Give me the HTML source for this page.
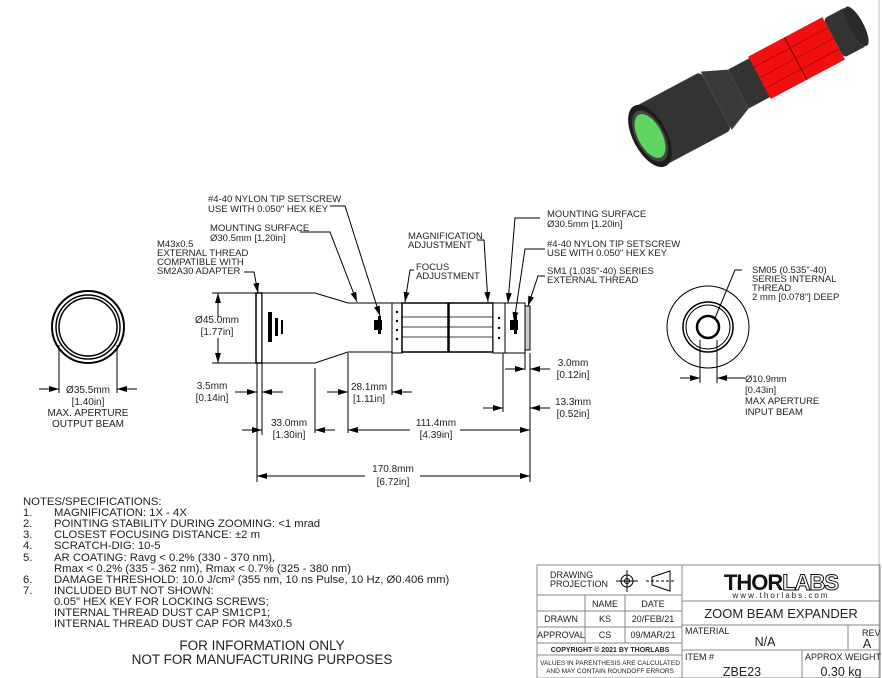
<!DOCTYPE html>
<html><head><meta charset="utf-8"><style>
html,body{margin:0;padding:0;background:#fff;}
svg{display:block;font-family:"Liberation Sans",sans-serif;}
text{fill:#222;}
</style></head><body>
<svg width="882" height="678" viewBox="0 0 882 678" xmlns="http://www.w3.org/2000/svg">
<defs>
<marker id="ar" viewBox="0 0 10 6" refX="10" refY="3" markerWidth="10" markerHeight="6" orient="auto-start-reverse" markerUnits="userSpaceOnUse"><path d="M0,0 L10,3 L0,6z" fill="#000"/></marker>
</defs>
<rect x="0" y="0" width="882" height="678" fill="#fff"/>
<line x1="879" y1="0" x2="879" y2="678" stroke="#bbb"/>

<!-- product image -->
<g transform="translate(650,136) rotate(-28)">
 <rect x="0" y="-33" width="75" height="66" rx="5" fill="#333"/>
 <path d="M75,-33 L100,-22 L100,22 L75,33z" fill="#3a3a3a"/>
 <rect x="100" y="-22" width="26" height="44" fill="#333"/>
 <rect x="124" y="-24" width="84" height="48" fill="#f01010"/>
 <line x1="165" y1="-24" x2="165" y2="24" stroke="#700" stroke-width="1"/>
 <line x1="124" y1="-12" x2="208" y2="-12" stroke="#900" stroke-width=".6"/>
 <line x1="124" y1="0" x2="208" y2="0" stroke="#900" stroke-width=".6"/>
 <line x1="124" y1="12" x2="208" y2="12" stroke="#900" stroke-width=".6"/>
 <rect x="208" y="-22" width="26" height="44" rx="4" fill="#333"/>
 <ellipse cx="234" cy="0" rx="7" ry="22" fill="#2a2a2a"/>
 <ellipse cx="0" cy="0" rx="17" ry="34" fill="#1c1c1c"/>
 <ellipse cx="0" cy="0" rx="14" ry="28" fill="#444"/>
 <ellipse cx="0" cy="0" rx="12" ry="24" fill="#5fd65f"/>
</g>

<!-- left end view -->
<g fill="none" stroke="#000">
 <circle cx="88" cy="327" r="36" stroke-width="2"/>
 <circle cx="88" cy="327" r="32" stroke-width="1.5"/>
 <circle cx="88" cy="327" r="29" stroke-width="1.5"/>
 <line x1="59" y1="345" x2="59" y2="393"/>
 <line x1="117" y1="345" x2="117" y2="393"/>
 <line x1="39" y1="389" x2="59" y2="389" marker-end="url(#ar)"/>
 <line x1="137" y1="389" x2="117" y2="389" marker-end="url(#ar)"/>
</g>
<g font-size="10" text-anchor="middle">
 <text x="88" y="393">Ø35.5mm</text>
 <text x="88" y="405">[1.40in]</text>
 <text x="88" y="416">MAX. APERTURE</text>
 <text x="88" y="427">OUTPUT BEAM</text>
</g>

<!-- right end view -->
<g fill="none" stroke="#000">
 <circle cx="708" cy="327" r="41"/>
 <circle cx="708" cy="327" r="25" stroke-width="1.5"/>
 <circle cx="708" cy="327" r="22"/>
 <circle cx="708" cy="327" r="11" stroke-width="2.5"/>
 <line x1="700" y1="340" x2="700" y2="383"/>
 <line x1="717" y1="340" x2="717" y2="383"/>
 <line x1="680" y1="378" x2="700" y2="378" marker-end="url(#ar)"/>
 <line x1="745" y1="378" x2="717" y2="378" marker-end="url(#ar)"/>
 <polyline points="742,270 735,270 715,318"/>
</g>
<g font-size="9.5">
 <text x="745" y="382">Ø10.9mm</text>
 <text x="745" y="393">[0.43in]</text>
 <text x="745" y="404">MAX APERTURE</text>
 <text x="745" y="415">INPUT BEAM</text>
 <text x="752" y="273">SM05 (0.535"-40)</text>
 <text x="752" y="282">SERIES INTERNAL</text>
 <text x="752" y="291">THREAD</text>
 <text x="752" y="300">2 mm [0.078"] DEEP</text>
</g>

<!-- side view body -->
<g stroke="#000" fill="#fff">
 <rect x="256" y="293" width="6" height="70" stroke-width="1.5"/>
 <path d="M262,293 L315,293 L348,303 L392,303 L392,352 L348,352 L315,363 L262,363z"/>
 <rect x="392" y="303" width="10" height="50"/>
 <rect x="402" y="303" width="46" height="49" stroke-width="1.5"/>
 <rect x="449" y="303" width="44" height="49" stroke-width="1.5"/>
 <rect x="493" y="303" width="12" height="50"/>
 <rect x="505" y="303" width="20" height="50"/>
 <rect x="525" y="306" width="5" height="44" fill="#ccc"/>
</g>
<g stroke="#000" stroke-width=".7">
 <line x1="402" y1="317" x2="448" y2="317"/><line x1="402" y1="327" x2="448" y2="327"/><line x1="402" y1="337" x2="448" y2="337"/>
 <line x1="449" y1="317" x2="493" y2="317"/><line x1="449" y1="327" x2="493" y2="327"/><line x1="449" y1="337" x2="493" y2="337"/>
</g>
<g fill="#000">
 <rect x="268" y="312" width="4" height="30"/><rect x="275" y="318" width="3" height="18"/><rect x="281" y="320" width="2" height="14"/>
 <rect x="374" y="320" width="8" height="10"/><rect x="378" y="316" width="3" height="18"/>
 <rect x="510" y="320" width="8" height="10"/><rect x="514" y="316" width="3" height="18"/>
 <circle cx="397" cy="312" r="1.2"/><circle cx="397" cy="321" r="1.2"/><circle cx="397" cy="330" r="1.2"/><circle cx="397" cy="339" r="1.2"/>
 <circle cx="499" cy="318" r="1.2"/><circle cx="499" cy="328" r="1.2"/><circle cx="499" cy="338" r="1.2"/>
</g>

<!-- leaders -->
<g fill="none" stroke="#000">
 <polyline points="244,272 254,272 258,293" marker-end="url(#ar)"/>
 <polyline points="300,232 330,232 357,302" marker-end="url(#ar)"/>
 <polyline points="330,206 345,206 380,316" marker-end="url(#ar)"/>
 <polyline points="414,270 410,270 405,302" marker-end="url(#ar)"/>
 <polyline points="477,240 484,240 488,302" marker-end="url(#ar)"/>
 <polyline points="540,218 515,218 508,303" marker-end="url(#ar)"/>
 <polyline points="545,249 525,249 514,322" marker-end="url(#ar)"/>
 <polyline points="545,276 538,276 528,306" marker-end="url(#ar)"/>
</g>
<g font-size="9.5">
 <text x="208" y="202">#4-40 NYLON TIP SETSCREW</text>
 <text x="208" y="212">USE WITH 0.050" HEX KEY</text>
 <text x="210" y="231">MOUNTING SURFACE</text>
 <text x="210" y="241">Ø30.5mm [1.20in]</text>
 <text x="157" y="247">M43x0.5</text>
 <text x="157" y="256">EXTERNAL THREAD</text>
 <text x="157" y="265">COMPATIBLE WITH</text>
 <text x="157" y="274">SM2A30 ADAPTER</text>
 <text x="408" y="239">MAGNIFICATION</text>
 <text x="408" y="248">ADJUSTMENT</text>
 <text x="416" y="270">FOCUS</text>
 <text x="416" y="279">ADJUSTMENT</text>
 <text x="547" y="217">MOUNTING SURFACE</text>
 <text x="547" y="227">Ø30.5mm [1.20in]</text>
 <text x="547" y="247">#4-40 NYLON TIP SETSCREW</text>
 <text x="547" y="256">USE WITH 0.050" HEX KEY</text>
 <text x="547" y="274">SM1 (1.035"-40) SERIES</text>
 <text x="547" y="283">EXTERNAL THREAD</text>
</g>

<!-- dimensions -->
<g fill="none" stroke="#000">
 <line x1="212" y1="293" x2="256" y2="293"/>
 <line x1="212" y1="363" x2="256" y2="363"/>
 <line x1="218" y1="318" x2="218" y2="293" marker-end="url(#ar)"/>
 <line x1="218" y1="338" x2="218" y2="363" marker-end="url(#ar)"/>
 <line x1="257" y1="363" x2="257" y2="482"/>
 <line x1="262" y1="363" x2="262" y2="435"/>
 <line x1="315" y1="368" x2="315" y2="433"/>
 <line x1="348" y1="353" x2="348" y2="433"/>
 <line x1="392" y1="353" x2="392" y2="395"/>
 <line x1="503" y1="353" x2="503" y2="412"/>
 <line x1="525" y1="353" x2="525" y2="370"/>
 <line x1="530" y1="353" x2="530" y2="482"/>
 <line x1="235" y1="392" x2="257" y2="392" marker-end="url(#ar)"/>
 <line x1="283" y1="392" x2="262" y2="392" marker-end="url(#ar)"/>
 <line x1="242" y1="430" x2="262" y2="430" marker-end="url(#ar)"/>
 <line x1="335" y1="430" x2="315" y2="430" marker-end="url(#ar)"/>
 <line x1="327" y1="392" x2="348" y2="392" marker-end="url(#ar)"/>
 <line x1="412" y1="392" x2="392" y2="392" marker-end="url(#ar)"/>
 <line x1="410" y1="430" x2="348" y2="430" marker-end="url(#ar)"/>
 <line x1="460" y1="430" x2="530" y2="430" marker-end="url(#ar)"/>
 <line x1="365" y1="476" x2="257" y2="476" marker-end="url(#ar)"/>
 <line x1="420" y1="476" x2="530" y2="476" marker-end="url(#ar)"/>
 <line x1="505" y1="369" x2="525" y2="369" marker-end="url(#ar)"/>
 <line x1="550" y1="369" x2="530" y2="369" marker-end="url(#ar)"/>
 <line x1="483" y1="408" x2="503" y2="408" marker-end="url(#ar)"/>
 <line x1="550" y1="408" x2="530" y2="408" marker-end="url(#ar)"/>
</g>
<g font-size="10" text-anchor="middle">
 <text x="217" y="323">Ø45.0mm</text><text x="217" y="335">[1.77in]</text>
 <text x="212" y="389">3.5mm</text><text x="212" y="401">[0.14in]</text>
 <text x="289" y="426">33.0mm</text><text x="289" y="438">[1.30in]</text>
 <text x="369" y="390">28.1mm</text><text x="369" y="402">[1.11in]</text>
 <text x="436" y="426">111.4mm</text><text x="436" y="438">[4.39in]</text>
 <text x="393" y="472">170.8mm</text><text x="393" y="485">[6.72in]</text>
 <text x="573" y="366">3.0mm</text><text x="573" y="378">[0.12in]</text>
 <text x="573" y="405">13.3mm</text><text x="573" y="417">[0.52in]</text>
</g>

<!-- notes -->
<g font-size="11.3">
 <text x="23" y="505">NOTES/SPECIFICATIONS:</text>
 <text x="23" y="516">1.</text><text x="54" y="516">MAGNIFICATION: 1X - 4X</text>
 <text x="23" y="527">2.</text><text x="54" y="527">POINTING STABILITY DURING ZOOMING: &lt;1 mrad</text>
 <text x="23" y="538">3.</text><text x="54" y="538">CLOSEST FOCUSING DISTANCE: ±2 m</text>
 <text x="23" y="549">4.</text><text x="54" y="549">SCRATCH-DIG: 10-5</text>
 <text x="23" y="561">5.</text><text x="54" y="561">AR COATING: Ravg &lt; 0.2% (330 - 370 nm),</text>
 <text x="54" y="572">Rmax &lt; 0.2% (335 - 362 nm), Rmax &lt; 0.7% (325 - 380 nm)</text>
 <text x="23" y="583">6.</text><text x="54" y="583">DAMAGE THRESHOLD: 10.0 J/cm² (355 nm, 10 ns Pulse, 10 Hz, Ø0.406 mm)</text>
 <text x="23" y="594">7.</text><text x="54" y="594">INCLUDED BUT NOT SHOWN:</text>
 <text x="54" y="605">0.05" HEX KEY FOR LOCKING SCREWS;</text>
 <text x="54" y="616">INTERNAL THREAD DUST CAP SM1CP1;</text>
 <text x="54" y="627">INTERNAL THREAD DUST CAP FOR M43x0.5</text>
</g>
<g font-size="13.5" text-anchor="middle">
 <text x="262" y="650">FOR INFORMATION ONLY</text>
 <text x="262" y="664">NOT FOR MANUFACTURING PURPOSES</text>
</g>

<!-- title block -->
<g fill="none" stroke="#888">
 <rect x="537" y="565" width="343" height="113"/>
 <line x1="682" y1="565" x2="682" y2="678"/>
 <line x1="537" y1="595" x2="682" y2="595"/>
 <line x1="537" y1="611" x2="682" y2="611"/>
 <line x1="537" y1="627" x2="682" y2="627"/>
 <line x1="537" y1="643" x2="682" y2="643"/>
 <line x1="537" y1="655" x2="682" y2="655"/>
 <line x1="585" y1="595" x2="585" y2="643"/>
 <line x1="625" y1="595" x2="625" y2="643"/>
 <line x1="682" y1="601" x2="880" y2="601"/>
 <line x1="682" y1="625" x2="880" y2="625"/>
 <line x1="682" y1="650" x2="880" y2="650"/>
 <line x1="848" y1="625" x2="848" y2="650"/>
 <line x1="802" y1="650" x2="802" y2="678"/>
</g>
<g fill="none" stroke="#000">
 <circle cx="627" cy="581" r="6"/><circle cx="627" cy="581" r="2.5"/>
 <line x1="616" y1="581" x2="638" y2="581"/><line x1="627" y1="570" x2="627" y2="592"/>
 <path d="M652,577 L670,571 L670,591 L652,585z"/>
 <line x1="646" y1="581" x2="676" y2="581" stroke-dasharray="3,2"/>
</g>
<g font-size="9">
 <text x="550" y="578">DRAWING</text><text x="550" y="587">PROJECTION</text>
 <text x="605" y="607" text-anchor="middle">NAME</text>
 <text x="653" y="607" text-anchor="middle">DATE</text>
 <text x="561" y="622" text-anchor="middle">DRAWN</text>
 <text x="605" y="622" text-anchor="middle">KS</text>
 <text x="653" y="622" text-anchor="middle">20/FEB/21</text>
 <text x="561" y="638" text-anchor="middle">APPROVAL</text>
 <text x="605" y="638" text-anchor="middle">CS</text>
 <text x="653" y="638" text-anchor="middle">09/MAR/21</text>
 <text x="610" y="652" text-anchor="middle" font-size="7" font-weight="bold">COPYRIGHT © 2021 BY THORLABS</text>
 <text x="610" y="665" text-anchor="middle" font-size="6.5">VALUES IN PARENTHESIS ARE CALCULATED</text>
 <text x="610" y="673" text-anchor="middle" font-size="6.5">AND MAY CONTAIN ROUNDOFF ERRORS</text>
 <text x="685" y="634" font-size="9">MATERIAL</text>
 <text x="862" y="636" font-size="9">REV</text>
 <text x="685" y="660" font-size="9">ITEM #</text>
 <text x="805" y="660" font-size="9">APPROX WEIGHT</text>
</g>
<text x="781" y="590" text-anchor="middle" font-size="22" font-weight="bold" style="fill:#111;letter-spacing:-1px">THOR<tspan style="fill:#fff;stroke:#111;stroke-width:1">LABS</tspan></text>
<text x="781" y="598" text-anchor="middle" font-size="8" style="letter-spacing:2px">www.thorlabs.com</text>
<text x="781" y="618" text-anchor="middle" font-size="13">ZOOM BEAM EXPANDER</text>
<text x="765" y="646" text-anchor="middle" font-size="12.5">N/A</text>
<text x="867" y="648" text-anchor="middle" font-size="12.5">A</text>
<text x="742" y="676" text-anchor="middle" font-size="12.5">ZBE23</text>
<text x="841" y="676" text-anchor="middle" font-size="12.5">0.30 kg</text>
</svg>
</body></html>
